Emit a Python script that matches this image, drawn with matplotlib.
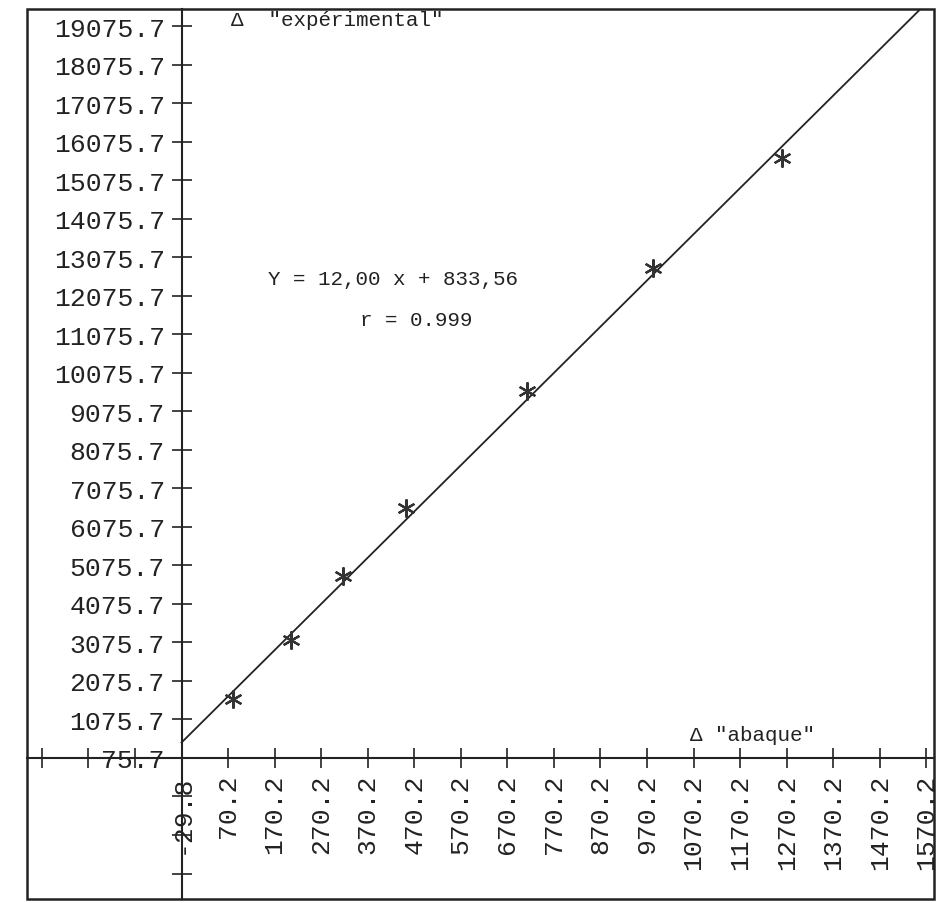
import numpy as np
import matplotlib
matplotlib.use('Agg')
import matplotlib.pyplot as plt
from matplotlib.patches import Rectangle

# --- data ---
x_abaque = [80.8, 205.4, 317.1, 452.5, 712.4, 983.1, 1260.0]
y_exp = [1608, 3140, 4802, 6567, 9606, 12800, 15656]
slope = 12.00
intercept = 833.56

x_ticks = [-329.8 + 100 * k for k in range(20)]
x_labels = ['', '', '', '-29.8'] + ['%.1f' % v for v in x_ticks[4:]]
y_ticks = [75.7 + 1000 * k for k in range(-3, 20)]
y_labels = ['', '', ''] + ['%.1f' % v for v in y_ticks[3:]]

x_origin = -29.8
y_origin = 75.7

plt.rcParams['font.family'] = ['Liberation Mono', 'DejaVu Sans Mono']
ink = '#222222'

fig = plt.figure(figsize=(9.4, 9.04), dpi=100)
fig.patch.set_facecolor('white')
ax = fig.add_axes([27 / 940, 4 / 904, 907 / 940, 890 / 904])

ax.set_xlim(-361.7, 1586.7)
ax.set_ylim(-3586, 19525)

# axes crossing inside the frame
ax.spines['left'].set_position(('data', x_origin))
ax.spines['bottom'].set_position(('data', y_origin))
ax.spines['top'].set_visible(False)
ax.spines['right'].set_visible(False)
for s in ('left', 'bottom'):
    ax.spines[s].set_linewidth(1.5)
    ax.spines[s].set_color(ink)

# outer frame
ax.add_patch(Rectangle((0, 0), 1, 1, transform=ax.transAxes, fill=False,
                       lw=1.8, ec=ink, clip_on=False))

ax.set_xticks(x_ticks)
ax.set_xticklabels(x_labels, rotation=90, ha='center', va='top')
ax.set_yticks(y_ticks)
ax.set_yticklabels(y_labels)
ax.tick_params(axis='both', direction='inout', length=14, width=1.2,
               colors=ink, labelsize=19)
ax.tick_params(axis='x', pad=4)
ax.tick_params(axis='y', pad=5)

# regression line and points
xs = np.array([x_origin, 1600])
ax.plot(xs, slope * xs + intercept, color=ink, lw=1.3, zorder=3)
ax.plot(x_abaque, y_exp, ls='none', marker=(6, 2, 0), ms=13, mew=1.6,
        color='#333333', zorder=4)

# annotations
ax.text(76.5, 19265, 'Δ  "expérimental"', fontsize=15, color=ink,
        ha='left', va='center')
ax.text(156.0, 12514, 'Y = 12,00 x + 833,56', fontsize=15, color=ink,
        ha='left', va='center')
ax.text(353.7, 11475, 'r = 0.999', fontsize=15, color=ink,
        ha='left', va='center')
ax.text(1063, 696, 'Δ "abaque"', fontsize=15, color=ink,
        ha='left', va='center')

fig.savefig('out.png', dpi=100, facecolor='white')
